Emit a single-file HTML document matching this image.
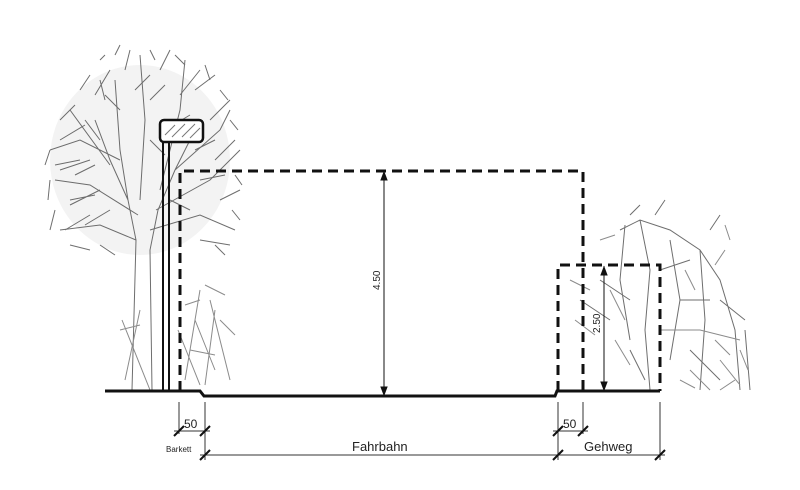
<!DOCTYPE html>
<html><head><meta charset="utf-8"><style>html,body{margin:0;padding:0;background:#fff}svg{display:block}</style></head>
<body>
<svg width="800" height="490" viewBox="0 0 800 490" xmlns="http://www.w3.org/2000/svg" font-family="Liberation Sans, sans-serif">
<rect width="800" height="490" fill="#fff"/>
<!-- left tree -->
<ellipse cx="140" cy="160" rx="90" ry="95" fill="#f3f3f3"/>
<g stroke="#555" stroke-width="1" fill="none" opacity="0.85">
<path d="M132 390 L136 240 L128 200 L110 160 L95 120 M152 390 L150 250 L158 210 L175 170 L195 130 M136 240 L100 225 L60 230 M138 215 L90 185 L55 180 M128 200 L120 150 L115 80 M150 230 L200 215 L235 230 M156 210 L210 180 L240 150 M160 190 L180 110 L185 60 M120 160 L80 140 L50 150 M110 165 L70 110 M175 170 L220 130 L230 110 M140 200 L145 120 L140 55"/>
<path d="M60 140 L85 125 M55 165 L80 160 M70 200 L95 195 M65 230 L90 215 M95 95 L110 70 M125 70 L130 50 M160 70 L170 50 M195 90 L215 75 M210 120 L230 100 M215 160 L235 140 M220 200 L240 190 M200 240 L230 245 M105 100 L100 80 M180 95 L200 70 M90 160 L60 170 M100 190 L70 205 M200 180 L225 175"/>
<path d="M50 150 L45 165 M50 180 L48 200 M55 210 L50 230 M60 120 L75 105 M80 90 L90 75 M100 60 L105 55 M115 55 L120 45 M150 50 L155 60 M175 55 L185 65 M205 65 L210 80 M220 90 L228 100 M230 120 L238 130 M235 175 L242 185 M232 210 L240 220 M215 245 L225 255 M70 245 L90 250 M100 245 L115 255 M150 100 L165 85 M165 130 L190 115 M100 140 L85 120 M120 110 L105 95 M170 200 L190 210 M110 210 L85 225 M75 175 L95 165 M195 150 L215 140 M165 155 L150 140 M135 90 L150 75"/>
<path d="M122 320 L150 390 M140 310 L125 380 M200 290 L185 380 M210 300 L230 380 M195 320 L215 370 M178 330 L200 385 M215 310 L205 385 M205 285 L225 295 M185 305 L200 300 M220 320 L235 335 M120 330 L140 325 M190 350 L215 355" stroke="#777"/>
</g>
<!-- right bushes -->
<g stroke="#555" stroke-width="1" fill="none" opacity="0.85">
<path d="M620 230 L640 220 L670 230 L700 250 L720 280 L735 330 L740 390 M640 220 L650 270 L645 330 L650 390 M670 240 L680 300 L670 360 M700 250 L705 320 L700 390 M625 225 L620 280 L630 340 M660 270 L690 260 M680 300 L710 300 M720 300 L745 320 M745 330 L750 390 M600 280 L630 300 M580 300 L610 320 M630 350 L645 380 M690 350 L720 380 M710 230 L720 215 M630 215 L640 205 M655 215 L665 200"/>
<path d="M660 330 L700 330 L740 340 M690 370 L710 390 M720 360 L740 385 M570 280 L590 290 M575 320 L595 335 M610 290 L625 320 M615 340 L630 365 M685 270 L695 290 M715 265 L725 250 M725 225 L730 240 M600 240 L615 235 M715 340 L730 355 M740 350 L748 370 M680 380 L695 388 M720 390 L735 380" stroke="#777"/>
</g>
<!-- pole and lamp -->
<g stroke="#111" fill="none">
<line x1="163" y1="142" x2="163" y2="391" stroke-width="2"/>
<line x1="169" y1="142" x2="169" y2="391" stroke-width="2"/>
<rect x="160" y="120" width="43" height="22" rx="4" stroke-width="2.5" fill="#fff"/>
<path d="M165 135 L175 125 M172 137 L185 124 M182 137 L195 124 M190 138 L200 128" stroke="#777" stroke-width="1"/>
</g>
<!-- ground -->
<path d="M105 391 L200 391 L204 396 L555 396 L557 391 L660 391" stroke="#111" stroke-width="3" fill="none"/>
<!-- dashed boxes -->
<g stroke="#111" stroke-width="3" fill="none" stroke-dasharray="10 6">
<path d="M180 391 L180 171 L583 171 L583 391"/>
<path d="M558 391 L558 265 L660 265 L660 391"/>
</g>
<!-- height arrows -->
<g stroke="#111" stroke-width="1" fill="#111">
<line x1="384" y1="171" x2="384" y2="394"/>
<path d="M384 172 l-3 8 l6 0z M384 395 l-3 -8 l6 0z"/>
<line x1="604" y1="266" x2="604" y2="390"/>
<path d="M604 267 l-3 8 l6 0z M604 390 l-3 -8 l6 0z"/>
</g>
<text x="0" y="0" font-size="10" transform="translate(380 290) rotate(-90)" fill="#222">4.50</text>
<text x="0" y="0" font-size="10" transform="translate(600 333) rotate(-90)" fill="#222">2.50</text>
<!-- dimension lines -->
<g stroke="#333" stroke-width="1">
<line x1="179" y1="402" x2="179" y2="434"/>
<line x1="205" y1="402" x2="205" y2="460"/>
<line x1="558" y1="402" x2="558" y2="460"/>
<line x1="583" y1="402" x2="583" y2="434"/>
<line x1="660" y1="402" x2="660" y2="460"/>
<line x1="174" y1="431" x2="210" y2="431"/>
<line x1="553" y1="431" x2="588" y2="431"/>
<line x1="200" y1="455" x2="665" y2="455"/>
</g>
<g stroke="#111" stroke-width="2">
<line x1="174" y1="436" x2="184" y2="426"/>
<line x1="200" y1="436" x2="210" y2="426"/>
<line x1="553" y1="436" x2="563" y2="426"/>
<line x1="578" y1="436" x2="588" y2="426"/>
<line x1="200" y1="460" x2="210" y2="450"/>
<line x1="553" y1="460" x2="563" y2="450"/>
<line x1="655" y1="460" x2="665" y2="450"/>
</g>
<g fill="#222">
<text x="184" y="428" font-size="12">50</text>
<text x="563" y="428" font-size="12">50</text>
<text x="166" y="452" font-size="8">Barkett</text>
<text x="352" y="451" font-size="13">Fahrbahn</text>
<text x="584" y="451" font-size="13">Gehweg</text>
</g>
</svg>
</body></html>
